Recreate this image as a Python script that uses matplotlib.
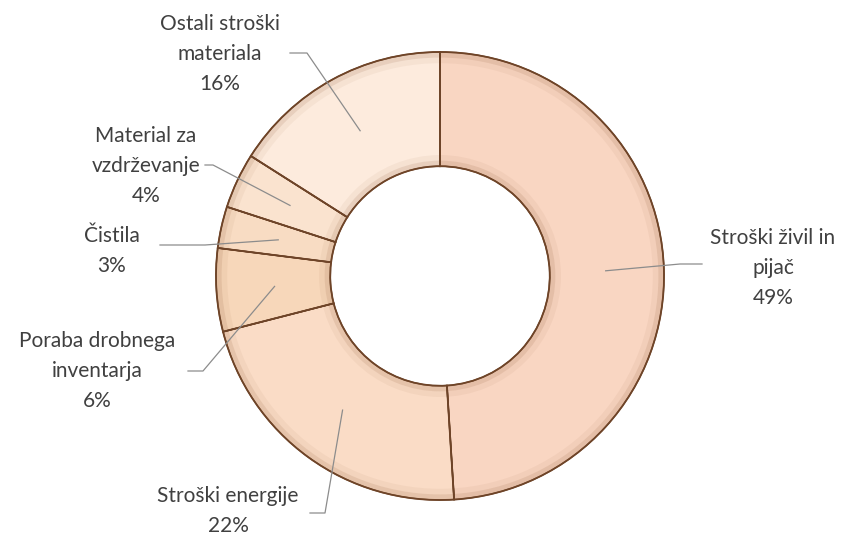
import matplotlib
matplotlib.use("Agg")
import matplotlib.pyplot as plt
import numpy as np

# data
labels = ["Stroški živil in\npijač", "Stroški energije", "Poraba drobnega\ninventarja",
          "Čistila", "Material za\nvzdrževanje", "Ostali stroški\nmateriala"]
values = [49, 22, 6, 3, 4, 16]
colors = ["#f9d6c2", "#fadcc6", "#f7d7ba", "#f8dcc3", "#fae3cf", "#fdebdd"]

# layout (pixels in the 845x537 picture)
cx, cy, R = 440, 276, 224
text_pos = [(773, 268), (228, 511), (97, 371), (112, 251), (146, 166), (220, 54)]
elbow = [(680, 264), (325, 513), (203, 371), (205, 245), (213, 165), (307, 53)]
line_end = [(702, 264), (310, 513), (188, 371), (160, 245), (205, 165), (290, 53)]


def px(x, y):
    return (x - cx) / R, (cy - y) / R


fig = plt.figure(figsize=(8.45, 5.37), dpi=100)
ax = fig.add_axes([0, 0, 1, 1])
plt.rcParams['font.family'] = ['Lato', 'DejaVu Sans']

wedges, _ = ax.pie(values, colors=colors, startangle=90, counterclock=False,
                   radius=1.0, wedgeprops=dict(width=0.51, edgecolor="#6e4428", linewidth=1.3))

# soft bevel shading on the ring
for r, w, a in [(1.0, 0.025, 0.18), (0.975, 0.025, 0.06), (0.515, 0.025, 0.18), (0.54, 0.025, 0.06)]:
    ax.pie([1], radius=r, colors=["#8a5530"], startangle=90,
           wedgeprops=dict(width=w, alpha=a, linewidth=0))
ax.pie(values, colors=["none"] * len(values), startangle=90, counterclock=False,
       radius=1.0, wedgeprops=dict(width=0.51, edgecolor="#6e4428", linewidth=1.0))

total = sum(values)
cum = 0
for i, v in enumerate(values):
    mid = np.deg2rad(90 - (cum + v / 2) / total * 360)
    cum += v
    ax_x, ax_y = 0.74 * np.cos(mid), 0.74 * np.sin(mid)
    ex, ey = px(*elbow[i])
    lx, ly = px(*line_end[i])
    ax.plot([ax_x, ex, lx], [ax_y, ey, ly], color="#8c8c8c", lw=0.9)
    tx, ty = px(*text_pos[i])
    ax.text(tx, ty, labels[i] + "\n" + str(v) + "%", ha="center", va="center",
            fontsize=15, color="#404040", linespacing=1.65)

ax.set_xlim(-cx / R, (845 - cx) / R)
ax.set_ylim(-(537 - cy) / R, cy / R)
ax.set_aspect("auto")
ax.axis("off")

plt.savefig("out.png", dpi=100)
